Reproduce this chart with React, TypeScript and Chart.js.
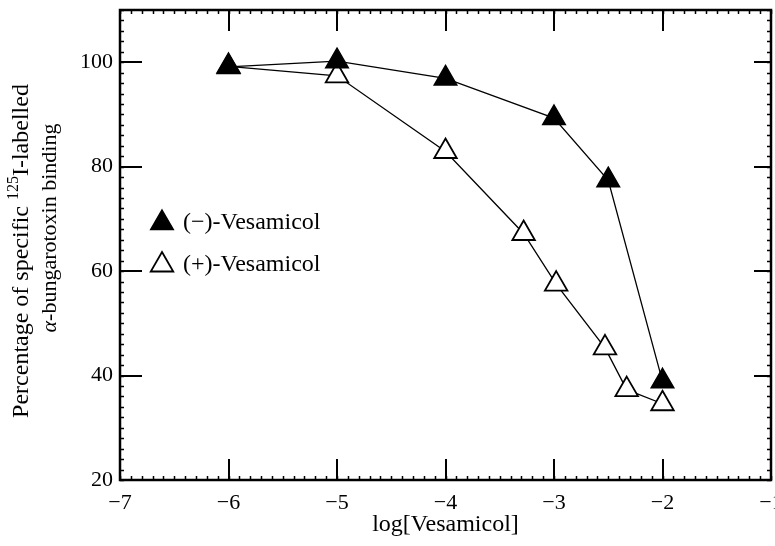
import React, { useEffect, useRef } from "react";
import { Chart, registerables, LineController } from "chart.js";

Chart.register(...registerables);
// keep the plot area flush with the layout padding (no extra room reserved for marker overflow)
(LineController.prototype as any).getMaxOverflow = function () {
  return 0;
};

// ---- data ----
const minusLabel = "(\u2212)-Vesamicol";
const plusLabel = "(+)-Vesamicol";
const minusX = [-6, -5, -4, -3, -2.5, -2];
const minusY = [99.1, 100.2, 96.9, 89.3, 77.4, 38.9];
const plusX = [-6, -5, -4, -3.28, -2.98, -2.53, -2.33, -2];
const plusY = [99.2, 97.4, 82.9, 67.2, 57.5, 45.3, 37.3, 34.6];
const xTicks = [-7, -6, -5, -4, -3, -2, -1];
const yTicks = [20, 40, 60, 80, 100];
const xRange = [-7, -1];
const yRange = [20, 110];
const xTitle = "log[Vesamicol]";
const yTitleLine1 = ["Percentage of specific ", "125", "I-labelled"];
const yTitleLine2 = ["\u03B1", "-bungarotoxin binding"];

const FONT = "'Liberation Serif', 'Times New Roman', serif";

const fmt = (v: number) => (v < 0 ? "\u2212" + Math.abs(v) : String(v));

const framePlugin = {
  id: "frameTicks",
  beforeDatasetsDraw(chart: any) {
    const { ctx, chartArea: a, scales } = chart;
    const xs = scales.x;
    const ys = scales.y;
    ctx.save();
    ctx.strokeStyle = "#000";
    // minor ticks
    ctx.lineWidth = 1.5;
    ctx.beginPath();
    for (let i = 0; i <= 60; i++) {
      const v = xRange[0] + i * 0.1;
      const px = Math.round(xs.getPixelForValue(v)) + 0.5;
      ctx.moveTo(px, a.bottom);
      ctx.lineTo(px, a.bottom - 4);
      ctx.moveTo(px, a.top);
      ctx.lineTo(px, a.top + 4);
    }
    for (let v = yRange[0]; v <= yRange[1]; v += 2) {
      const py = Math.round(ys.getPixelForValue(v)) + 0.5;
      ctx.moveTo(a.left, py);
      ctx.lineTo(a.left + 4, py);
      ctx.moveTo(a.right, py);
      ctx.lineTo(a.right - 4, py);
    }
    ctx.stroke();
    // major ticks
    ctx.lineWidth = 2;
    ctx.beginPath();
    for (const v of xTicks) {
      const px = Math.round(xs.getPixelForValue(v));
      ctx.moveTo(px, a.bottom);
      ctx.lineTo(px, a.bottom - 21);
      ctx.moveTo(px, a.top);
      ctx.lineTo(px, a.top + 21);
    }
    for (const v of yTicks) {
      const py = Math.round(ys.getPixelForValue(v));
      ctx.moveTo(a.left, py);
      ctx.lineTo(a.left + 22, py);
      ctx.moveTo(a.right, py);
      ctx.lineTo(a.right - 17, py);
    }
    ctx.stroke();
    // frame
    ctx.lineWidth = 2.5;
    ctx.strokeRect(a.left, a.top, a.right - a.left, a.bottom - a.top);
    ctx.restore();
  },
};

function drawRich(ctx: any, segs: { t: string; f: string; dy?: number }[], cx: number, cy: number) {
  ctx.save();
  ctx.translate(cx, cy);
  ctx.rotate(-Math.PI / 2);
  ctx.fillStyle = "#000";
  ctx.textBaseline = "middle";
  ctx.textAlign = "left";
  let total = 0;
  for (const s of segs) {
    ctx.font = s.f;
    total += ctx.measureText(s.t).width;
  }
  let x = -total / 2;
  for (const s of segs) {
    ctx.font = s.f;
    ctx.fillText(s.t, x, s.dy || 0);
    x += ctx.measureText(s.t).width;
  }
  ctx.restore();
}

const yTitlePlugin = {
  id: "yTitleRich",
  afterDraw(chart: any) {
    const { ctx } = chart;
    drawRich(
      ctx,
      [
        { t: yTitleLine1[0], f: `24px ${FONT}` },
        { t: yTitleLine1[1], f: `16px ${FONT}`, dy: -8 },
        { t: yTitleLine1[2], f: `24px ${FONT}` },
      ],
      22,
      251
    );
    drawRich(
      ctx,
      [
        { t: yTitleLine2[0], f: `italic 22px ${FONT}` },
        { t: yTitleLine2[1], f: `22px ${FONT}` },
      ],
      50,
      228
    );
  },
};

const legendPlugin = {
  id: "innerLegend",
  afterDatasetsDraw(chart: any) {
    const { ctx } = chart;
    ctx.save();
    chart.data.datasets.forEach((ds: any, i: number) => {
      const cx = 162;
      const cy = 223 + i * 42;
      const r = 13;
      ctx.beginPath();
      ctx.moveTo(cx, cy - r);
      ctx.lineTo(cx + r * Math.sin((2 * Math.PI) / 3), cy - r * Math.cos((2 * Math.PI) / 3));
      ctx.lineTo(cx + r * Math.sin((4 * Math.PI) / 3), cy - r * Math.cos((4 * Math.PI) / 3));
      ctx.closePath();
      ctx.fillStyle = ds.pointBackgroundColor;
      ctx.fill();
      ctx.lineWidth = ds.pointBorderWidth;
      ctx.strokeStyle = ds.pointBorderColor;
      ctx.stroke();
      ctx.fillStyle = "#000";
      ctx.font = `24px ${FONT}`;
      ctx.textBaseline = "middle";
      ctx.textAlign = "left";
      ctx.fillText(ds.label, 183, cy);
    });
    ctx.restore();
  },
};

export default function App() {
  const ref = useRef<HTMLCanvasElement | null>(null);
  useEffect(() => {
    if (!ref.current) return;
    const chart = new Chart(ref.current, {
      type: "line",
      data: {
        datasets: [
          {
            label: minusLabel,
            data: minusX.map((x, i) => ({ x, y: minusY[i] })),
            borderColor: "#000",
            borderWidth: 1.3,
            pointStyle: "triangle",
            pointRadius: 13,
            pointBackgroundColor: "#000",
            pointBorderColor: "#000",
            pointBorderWidth: 1.5,
            fill: false,
            tension: 0,
            clip: false,
          },
          {
            label: plusLabel,
            data: plusX.map((x, i) => ({ x, y: plusY[i] })),
            borderColor: "#000",
            borderWidth: 1.3,
            pointStyle: "triangle",
            pointRadius: 13,
            pointBackgroundColor: "#fff",
            pointBorderColor: "#000",
            pointBorderWidth: 1.8,
            fill: false,
            tension: 0,
            clip: false,
          },
        ],
      },
      options: {
        responsive: false,
        animation: false,
        layout: { padding: { top: 10, right: 4, left: 0, bottom: 0 } },
        plugins: { legend: { display: false }, tooltip: { enabled: false } },
        scales: {
          x: {
            type: "linear",
            min: xRange[0],
            max: xRange[1],
            afterBuildTicks: (s: any) => {
              s.ticks = xTicks.map((v) => ({ value: v }));
            },
            afterFit: (s: any) => {
              s.height = 66;
              s.paddingLeft = 0;
              s.paddingRight = 0;
            },
            grid: { display: false, drawTicks: false },
            border: { display: false },
            ticks: {
              color: "#000",
              padding: 10,
              maxRotation: 0,
              font: { family: FONT, size: 22 },
              callback: (v: any) => fmt(Number(v)),
            },
            title: {
              display: true,
              text: xTitle,
              color: "#000",
              font: { family: FONT, size: 24 },
              padding: { top: 0, bottom: 7 },
            },
          },
          y: {
            type: "linear",
            min: yRange[0],
            max: yRange[1],
            afterBuildTicks: (s: any) => {
              s.ticks = yTicks.map((v) => ({ value: v }));
            },
            afterFit: (s: any) => {
              s.width = 120;
              s.paddingTop = 0;
              s.paddingBottom = 0;
            },
            grid: { display: false, drawTicks: false },
            border: { display: false },
            ticks: {
              color: "#000",
              padding: 7,
              font: { family: FONT, size: 22 },
              callback: (v: any) => fmt(Number(v)),
            },
          },
        },
      },
      plugins: [framePlugin, legendPlugin, yTitlePlugin],
    });
    return () => chart.destroy();
  }, []);
  return (
    <div style={{ position: "absolute", left: 0, top: 0, width: 775, height: 546, background: "#fff" }}>
      <canvas ref={ref} width={775} height={546} />
    </div>
  );
}
